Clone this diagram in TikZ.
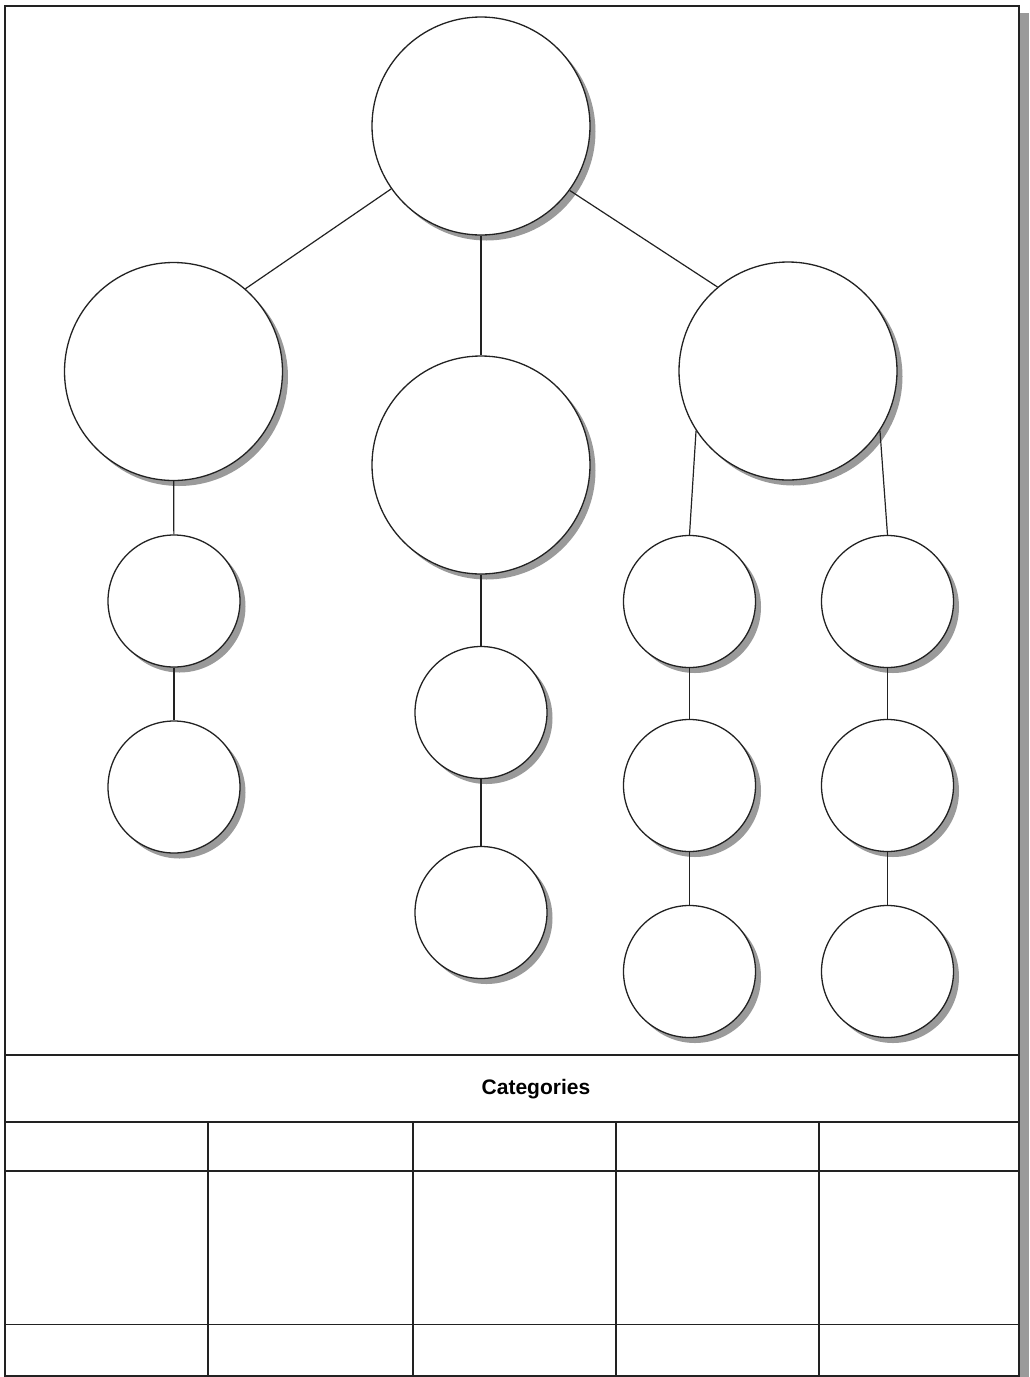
\documentclass[tikz,border=0pt]{standalone}
\usepackage{fontspec}
\setmainfont{Liberation Sans}
\usetikzlibrary{shadows}
\definecolor{shgray}{HTML}{9A9A9A}
\definecolor{ink}{HTML}{222222}
\begin{document}
\begin{tikzpicture}[x=1pt,y=-1pt,
  circbase/.style={circle,draw=ink,line width=1.3pt,fill=white,inner sep=0pt,
    drop shadow={shadow xshift=5.5pt,shadow yshift=-5.5pt,fill=shgray,opacity=1}},
  big/.style={circbase,minimum size=218pt},
  small/.style={circbase,minimum size=132pt},
  link/.style={draw=ink,line width=1.2pt},
  tline/.style={draw=ink,line width=1.6pt},
  frame/.style={draw=ink,line width=2pt}]
\useasboundingbox (0,0) rectangle (1029,1377);
% frame with its shadow
\fill[shgray] (1020,13) rectangle (1029,1377);
\draw[frame,fill=white] (5,5.5) rectangle (1019,1376);

% circles
\node[big] (T) at (481,126) {};
\node[big] (L) at (173.5,371.5) {};
\node[big] (M) at (481,465) {};
\node[big] (R) at (788,371) {};
\node[small] (L1) at (174,601) {};
\node[small] (L2) at (174,787) {};
\node[small] (M1) at (481,712.5) {};
\node[small] (M2) at (481,912.5) {};
\node[small] (A1) at (689.5,601.5) {};
\node[small] (A2) at (689.5,785.5) {};
\node[small] (A3) at (689.5,971.5) {};
\node[small] (B1) at (887.5,601.5) {};
\node[small] (B2) at (887.5,785.5) {};
\node[small] (B3) at (887.5,971.5) {};

% connectors
\draw[link] (T.215.6) -- (L.49.5);
\draw[link] (T) -- (M);
\draw[link] (T.324) -- (R.130.8);
\draw[link] (L) -- (L1);
\draw[link] (L1) -- (L2);
\draw[link] (M) -- (M1);
\draw[link] (M1) -- (M2);
\draw[link] (R.213) -- (A1.north);
\draw[link] (R.327) -- (B1.north);
\draw[link] (A1) -- (A2);
\draw[link] (A2) -- (A3);
\draw[link] (B1) -- (B2);
\draw[link] (B2) -- (B3);

% table
\draw[tline] (5,1055) -- (1019,1055);
\draw[tline] (5,1121.7) -- (1019,1121.7);
\draw[tline] (5,1171) -- (1019,1171);
\draw[tline] (5,1324.3) -- (1019,1324.3);
\foreach \cx in {208,413,616,819} {
  \draw[tline] (\cx,1121.7) -- (\cx,1376);
}
\node[font=\bfseries\fontsize{21}{25}\selectfont,inner sep=0pt] (cat) at (536,1089) {Categories};
\end{tikzpicture}
\end{document}
